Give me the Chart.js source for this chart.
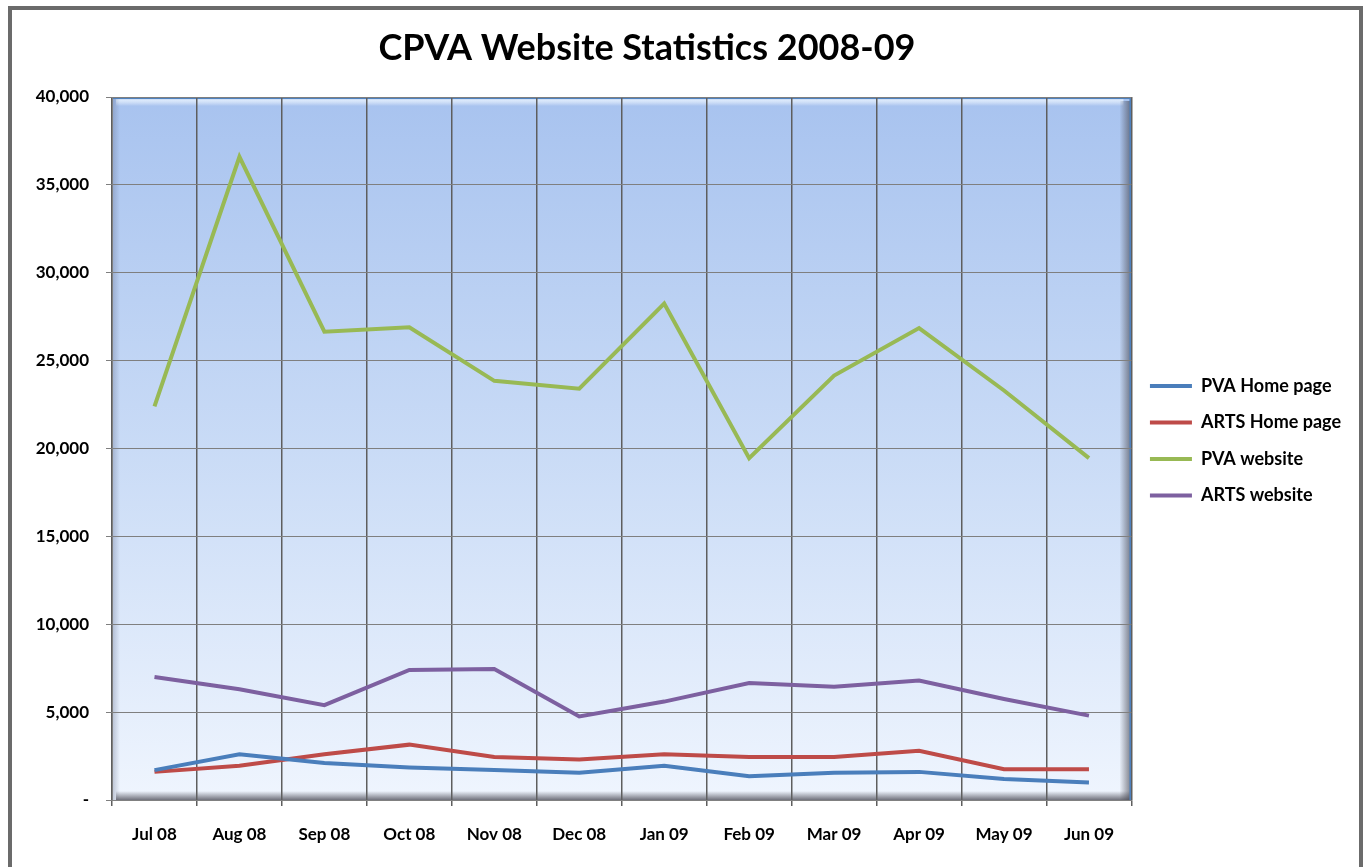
<!DOCTYPE html>
<html>
<head>
<meta charset="utf-8">
<title>CPVA Website Statistics 2008-09</title>
<script src="https://cdn.jsdelivr.net/npm/chart.js@4/dist/chart.umd.min.js"></script>
<style>
  body { margin: 0; background: #fff; }
  #frame {
    position: absolute; left: 8px; top: 6px;
    width: 1355px; height: 880px;
    border: 4px solid #6b6b6b; box-sizing: border-box;
    background: #fff;
  }
  #chart { position: absolute; left: 0; top: 0; }
</style>
</head>
<body>
<div id="frame">
  <canvas id="chart" width="1347" height="857"></canvas>
</div>
<script>
// data
const months = ["Jul 08", "Aug 08", "Sep 08", "Oct 08", "Nov 08", "Dec 08",
                "Jan 09", "Feb 09", "Mar 09", "Apr 09", "May 09", "Jun 09"];
const pvaHome  = [1700, 2600, 2100, 1850, 1700, 1550, 1950, 1350, 1550, 1600, 1200, 1000];
const artsHome = [1600, 1950, 2600, 3150, 2450, 2300, 2600, 2450, 2450, 2800, 1750, 1750];
const pvaSite  = [22400, 36600, 26650, 26900, 23850, 23400, 28250, 19450, 24150, 26850, 23300, 19450];
const artsSite = [7000, 6300, 5400, 7400, 7450, 4750, 5600, 6650, 6450, 6800, 5750, 4800];

const FONT = "Lato, 'Open Sans', sans-serif";

// plot-area gradient with the bevelled edges
const plotBackground = {
  id: 'plotBackground',
  beforeDraw(chart) {
    const { ctx, chartArea: a } = chart;
    ctx.save();
    let g = ctx.createLinearGradient(0, a.top, 0, a.bottom);
    g.addColorStop(0, '#a8c3ef');
    g.addColorStop(0.5, '#c9dbf6');
    g.addColorStop(1, '#eff5fe');
    ctx.fillStyle = g;
    ctx.fillRect(a.left, a.top, a.right - a.left, a.bottom - a.top);

    // top highlight
    g = ctx.createLinearGradient(0, a.top, 0, a.top + 9);
    g.addColorStop(0, 'rgba(255,255,255,0.0)');
    g.addColorStop(0.4, 'rgba(235,245,255,0.75)');
    g.addColorStop(1, 'rgba(255,255,255,0)');
    ctx.fillStyle = g;
    ctx.fillRect(a.left + 4, a.top, a.right - a.left - 12, 9);

    // left shadow
    g = ctx.createLinearGradient(a.left, 0, a.left + 8, 0);
    g.addColorStop(0, 'rgba(90,100,130,0.35)');
    g.addColorStop(1, 'rgba(90,100,130,0)');
    ctx.fillStyle = g;
    ctx.fillRect(a.left, a.top, 8, a.bottom - a.top);

    // right shadow
    g = ctx.createLinearGradient(a.right - 12, 0, a.right, 0);
    g.addColorStop(0, 'rgba(70,70,80,0)');
    g.addColorStop(1, 'rgba(70,70,80,0.7)');
    ctx.fillStyle = g;
    ctx.fillRect(a.right - 12, a.top + 4, 12, a.bottom - a.top - 4);

    // bottom shadow
    g = ctx.createLinearGradient(0, a.bottom - 9, 0, a.bottom);
    g.addColorStop(0, 'rgba(70,70,80,0)');
    g.addColorStop(1, 'rgba(70,70,80,0.75)');
    ctx.fillStyle = g;
    ctx.fillRect(a.left + 4, a.bottom - 9, a.right - a.left - 4, 9);

    // top and right edge lines
    ctx.strokeStyle = '#4f81bd';
    ctx.lineWidth = 2;
    ctx.beginPath();
    ctx.moveTo(a.left, a.top + 1);
    ctx.lineTo(a.right - 1, a.top + 1);
    ctx.lineTo(a.right - 1, a.bottom);
    ctx.stroke();
    ctx.restore();
  }
};

// title placed where the reference has it
const chartTitle = {
  id: 'chartTitle',
  afterDraw(chart) {
    const ctx = chart.ctx;
    ctx.save();
    ctx.font = "bold 36px " + FONT;
    ctx.fillStyle = '#000';
    ctx.textAlign = 'center';
    ctx.textBaseline = 'middle';
    ctx.fillText('CPVA Website Statistics 2008-09', 635, 38);
    ctx.restore();
  }
};

function series(label, data, color) {
  return {
    label: label,
    data: data,
    borderColor: color,
    backgroundColor: color,
    borderWidth: 4,
    pointRadius: 0,
    pointHoverRadius: 0,
    tension: 0,
    fill: false
  };
}

new Chart(document.getElementById('chart'), {
  type: 'line',
  data: {
    labels: months,
    datasets: [
      series('PVA Home page', pvaHome, '#4a7ebb'),
      series('ARTS Home page', artsHome, '#be4b48'),
      series('PVA website', pvaSite, '#98b954'),
      series('ARTS website', artsSite, '#7d60a0')
    ]
  },
  options: {
    responsive: false,
    animation: false,
    devicePixelRatio: 1,
    layout: { padding: { top: 87, right: 8, left: 0, bottom: 0 } },
    plugins: {
      title: { display: false },
      tooltip: { enabled: false },
      legend: {
        position: 'right',
        fullSize: false,
        align: 'start',
        // empty legend title only used to push the entries down
        title: { display: true, text: ' ', font: { size: 12 }, padding: { top: 247, bottom: 0 } },
        labels: {
          usePointStyle: true,
          pointStyle: 'line',
          pointStyleWidth: 42,
          boxHeight: 18,
          padding: 18.5,
          color: '#000',
          font: { family: FONT, size: 18, weight: 'bold' }
        }
      }
    },
    scales: {
      x: {
        offset: true,
        grid: { offset: true, color: '#5e5e5e', lineWidth: 1.5, tickLength: 6 },
        border: { color: '#808080', width: 1 },
        ticks: {
          color: '#000', padding: 18, maxRotation: 0,
          font: { family: FONT, size: 17, weight: 'bold' }
        },
        afterFit(scale) { scale.height = 67; }
      },
      y: {
        min: 0, max: 40000,
        grid: { color: '#7f7f7f', lineWidth: 1, tickLength: 6 },
        border: { color: '#808080', width: 1 },
        ticks: {
          stepSize: 5000, color: '#000', padding: 17,
          font: { family: FONT, size: 17, weight: 'bold' },
          callback: v => v === 0 ? '-' : v.toLocaleString('en-US')
        },
        afterFit(scale) { scale.width = 100; }
      }
    }
  },
  plugins: [plotBackground, chartTitle]
});
</script>
</body>
</html>
